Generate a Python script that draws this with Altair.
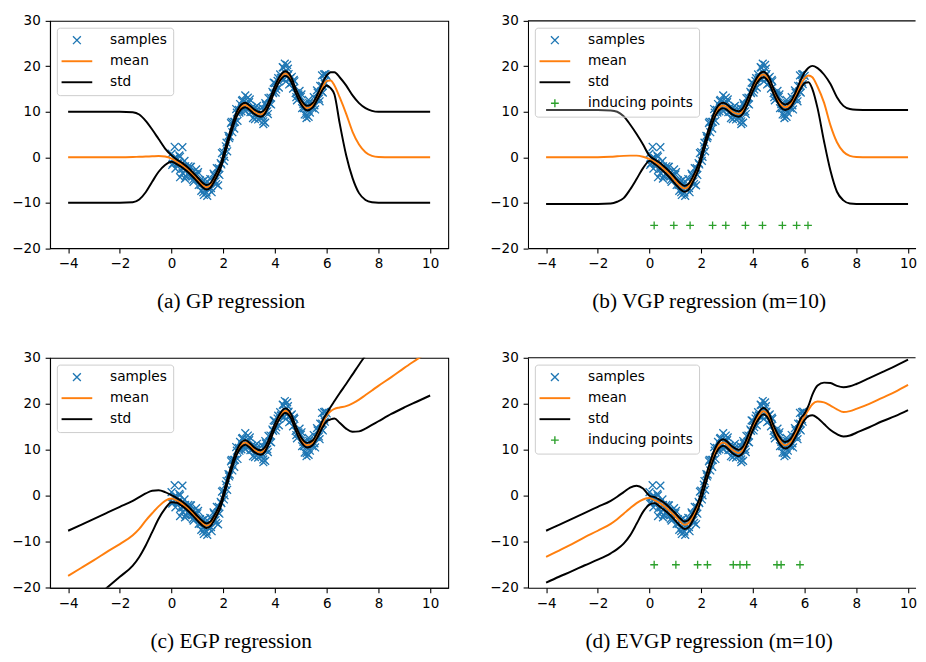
import altair as alt
import pandas as pd

# ---------------- data ----------------
XG = [-4, -3.5, -3, -2.5, -2, -1.5, -1.25, -1, -0.75, -0.5,
      -0.25, 0, 0.2, 0.4, 0.6, 0.8, 1.0, 1.2, 1.35, 1.5,
      1.7, 1.9, 2.1, 2.3, 2.5, 2.7, 2.85, 3.0, 3.2, 3.45,
      3.6, 3.8, 4.0, 4.2, 4.4, 4.6, 4.8, 5.0, 5.25, 5.45,
      5.65, 5.85, 6.0, 6.15, 6.3, 6.5, 6.75, 7.0, 7.25, 7.5,
      7.75, 8, 8.5, 9, 9.5, 10]

A_MEAN = [0, 0, 0, 0, 0, 0.05, 0.1, 0.15, 0.2, 0.25,
          0.15, -0.3, -1.0, -1.7, -2.6, -3.7, -4.9, -6.1, -6.6, -6.2,
          -4.3, -1.9, 2.0, 5.8, 9.2, 11.1, 11.5, 11.0, 10.0, 9.4,
          10.0, 12.3, 15.2, 17.4, 18.4, 17.4, 14.6, 12.2, 10.8, 11.4,
          13.3, 15.6, 16.8, 16.9, 15.8, 13.2, 9.6, 5.6, 2.8, 1.1,
          0.3, 0.05, 0, 0, 0, 0]
A_UP = [10, 10, 10, 10, 10, 9.9, 9.4, 8.0, 6.1, 4.0,
        1.9, 0.4, -0.5, -1.2, -2.1, -3.2, -4.4, -5.6, -6.1, -5.7,
        -3.8, -1.4, 2.5, 6.3, 9.7, 11.6, 12.0, 11.5, 10.5, 9.9,
        10.5, 12.8, 15.7, 17.9, 18.9, 17.9, 15.1, 12.7, 11.3, 11.9,
        13.9, 16.5, 18.0, 18.7, 18.7, 17.6, 15.8, 13.6, 11.9, 10.8,
        10.2, 10.0, 10, 10, 10, 10]
A_LO = [-10, -10, -10, -10, -10, -9.9, -9.3, -7.7, -5.4, -3.2,
        -1.7, -1.0, -1.5, -2.2, -3.1, -4.2, -5.4, -6.6, -7.1, -6.7,
        -4.8, -2.4, 1.5, 5.3, 8.7, 10.6, 11.0, 10.5, 9.5, 8.9,
        9.5, 11.8, 14.7, 16.9, 17.9, 16.9, 14.1, 11.7, 10.3, 10.9,
        12.8, 14.9, 15.8, 15.2, 13.8, 7.5, 0.5, -4.6, -7.9, -9.4,
        -9.9, -10, -10, -10, -10, -10]

B_MEAN = [0, 0, 0, 0, 0, 0.1, 0.2, 0.3, 0.35, 0.35,
          0.1, -0.4, -1.0, -1.8, -2.8, -3.9, -5.2, -6.4, -6.9, -6.5,
          -4.6, -2.0, 2.0, 5.8, 9.1, 11.0, 11.4, 11.0, 10.0, 9.5,
          10.1, 12.4, 15.2, 17.3, 18.2, 17.2, 14.5, 12.2, 11.0, 11.6,
          13.6, 16.0, 17.4, 18.0, 17.6, 15.5, 12.0, 7.0, 3.3, 1.2,
          0.3, 0.05, 0, 0, 0, 0]
B_UP = [10.4, 10.4, 10.4, 10.4, 10.4, 10.3, 10.0, 9.0, 7.2, 5.1,
        2.8, 0.3, -0.5, -1.2, -2.2, -3.3, -4.6, -5.8, -6.3, -5.9,
        -4.0, -1.4, 2.6, 6.4, 9.7, 11.6, 12.0, 11.6, 10.6, 10.1,
        10.7, 13.0, 15.8, 17.9, 18.8, 17.8, 15.1, 12.8, 11.6, 12.2,
        14.3, 17.0, 18.7, 19.7, 20.1, 19.6, 18.2, 16.1, 13.2, 11.3,
        10.6, 10.45, 10.4, 10.4, 10.4, 10.4]
B_LO = [-10.3, -10.3, -10.3, -10.3, -10.3, -10.2, -9.8, -9.0, -7.1, -4.8,
        -2.4, -0.8, -1.5, -2.4, -3.4, -4.6, -5.9, -7.1, -7.6, -7.2,
        -5.2, -2.6, 1.4, 5.2, 8.5, 10.4, 10.8, 10.4, 9.4, 8.9,
        9.5, 11.8, 14.6, 16.7, 17.6, 16.6, 13.9, 11.6, 10.4, 11.0,
        12.9, 15.1, 16.3, 16.5, 15.0, 10.8, 3.5, -3.0, -7.6, -9.5,
        -10.2, -10.3, -10.3, -10.3, -10.3, -10.3]

C_MEAN = [-17.4, -15.7, -14.0, -12.2, -10.5, -8.6, -7.2, -5.4, -3.8, -2.3,
          -1.1, -0.6, -1.0, -1.7, -2.6, -3.7, -4.9, -6.0, -6.5, -6.1,
          -4.3, -1.9, 2.0, 5.8, 9.2, 11.1, 11.6, 11.1, 10.0, 9.4,
          10.0, 12.3, 15.2, 17.4, 18.5, 17.5, 14.7, 12.3, 11.0, 11.5,
          13.3, 15.8, 17.5, 18.4, 18.9, 19.2, 19.5, 20.1, 20.9, 21.9,
          22.9, 23.9, 25.8, 27.8, 29.7, 31.6]
C_UP = [-7.6, -6.3, -5.0, -3.7, -2.4, -1.1, -0.3, 0.5, 1.1, 1.2,
        0.8, 0.1, -0.5, -1.2, -2.1, -3.2, -4.4, -5.5, -6.0, -5.6,
        -3.8, -1.4, 2.5, 6.3, 9.7, 11.6, 12.1, 11.6, 10.5, 9.9,
        10.5, 12.8, 15.7, 17.9, 19.0, 18.0, 15.2, 12.8, 11.5, 12.0,
        13.9, 16.5, 17.9, 19.3, 20.6, 22.3, 24.3, 26.4, 28.5, 30.5,
        32.5, 34.4, 38.0, 41.5, 45.0, 48.5]
C_LO = [-26.5, -24.5, -22.4, -20.0, -17.6, -15.2, -13.3, -10.8, -7.9, -5.0,
        -2.8, -1.4, -1.5, -2.2, -3.1, -4.2, -5.4, -6.5, -7.0, -6.6,
        -4.8, -2.4, 1.5, 5.3, 8.7, 10.6, 11.1, 10.6, 9.5, 8.9,
        9.5, 11.8, 14.7, 16.9, 18.0, 17.0, 14.2, 11.8, 10.5, 11.0,
        12.8, 15.0, 16.2, 16.6, 16.8, 15.9, 14.6, 13.9, 14.0, 14.6,
        15.4, 16.2, 17.8, 19.2, 20.5, 21.8]

D_MEAN = [-13.3, -11.9, -10.5, -9.0, -7.6, -6.1, -5.1, -3.9, -2.7, -1.6,
          -0.8, -0.5, -1.0, -1.6, -2.4, -3.4, -4.5, -5.7, -6.3, -6.0,
          -4.3, -1.8, 2.0, 5.8, 9.1, 11.1, 11.6, 11.1, 10.0, 9.3,
          9.9, 12.2, 15.0, 17.2, 18.4, 17.4, 14.6, 12.3, 11.0, 11.6,
          13.5, 15.9, 17.3, 18.7, 19.9, 20.5, 20.3, 19.6, 18.8, 18.2,
          18.4, 18.9, 20.0, 21.3, 22.6, 24.1]
D_UP = [-7.6, -6.3, -5.0, -3.7, -2.4, -1.1, -0.2, 0.8, 1.8, 2.2,
        1.6, 0.0, -0.3, -0.9, -1.7, -2.7, -3.8, -5.0, -5.6, -5.3,
        -3.6, -1.1, 2.7, 6.5, 9.8, 11.8, 12.3, 11.8, 10.7, 10.0,
        10.6, 12.9, 15.7, 17.9, 19.1, 18.1, 15.3, 13.0, 11.7, 12.3,
        14.3, 16.8, 17.9, 19.6, 22.0, 24.0, 24.6, 24.5, 23.9, 23.6,
        23.8, 24.3, 25.6, 26.9, 28.2, 29.6]
D_LO = [-18.9, -17.6, -16.4, -15.1, -13.9, -12.5, -11.6, -10.4, -8.6, -6.1,
        -3.5, -1.9, -1.6, -2.4, -3.2, -4.2, -5.4, -6.6, -7.2, -6.9,
        -5.1, -2.6, 1.2, 5.0, 8.3, 10.4, 10.9, 10.4, 9.3, 8.6,
        9.2, 11.5, 14.3, 16.5, 17.7, 16.7, 13.9, 11.6, 10.3, 10.9,
        12.8, 15.0, 16.5, 17.3, 17.5, 16.9, 15.6, 14.3, 13.4, 12.9,
        13.1, 13.7, 14.9, 16.2, 17.3, 18.6]

SAMPLE_X = [
    0.0, 0.05, 0.1, 0.15, 0.2, 0.25, 0.3, 0.35, 0.4, 0.45,
    0.5, 0.55, 0.6, 0.65, 0.7, 0.75, 0.8, 0.85, 0.9, 0.95,
    1.0, 1.05, 1.1, 1.15, 1.2, 1.25, 1.3, 1.35, 1.4, 1.45,
    1.5, 1.55, 1.6, 1.65, 1.7, 1.75, 1.8, 1.85, 1.9, 1.95,
    2.0, 2.05, 2.1, 2.15, 2.2, 2.25, 2.3, 2.35, 2.4, 2.45,
    2.5, 2.55, 2.6, 2.65, 2.7, 2.75, 2.8, 2.85, 2.9, 2.95,
    3.0, 3.05, 3.1, 3.15, 3.2, 3.25, 3.3, 3.35, 3.4, 3.45,
    3.5, 3.55, 3.6, 3.65, 3.7, 3.75, 3.8, 3.85, 3.9, 3.95,
    4.0, 4.05, 4.1, 4.15, 4.2, 4.25, 4.3, 4.35, 4.4, 4.45,
    4.5, 4.55, 4.6, 4.65, 4.7, 4.75, 4.8, 4.85, 4.9, 4.95,
    5.0, 5.05, 5.1, 5.15, 5.2, 5.25, 5.3, 5.35, 5.4, 5.45,
    5.5, 5.55, 5.6, 5.65, 5.7, 5.75, 5.8, 5.85, 5.9, 5.95,
    6.0,
    0.025, 0.125, 0.225, 0.325, 0.425, 0.525, 0.625, 0.725, 0.825, 0.925,
    1.025, 1.125, 1.225, 1.325, 1.425, 1.525, 1.625, 1.725, 1.825, 1.925,
    2.025, 2.125, 2.225, 2.325, 2.425, 2.525, 2.625, 2.725, 2.825, 2.925,
    3.025, 3.125, 3.225, 3.325, 3.425, 3.525, 3.625, 3.725, 3.825, 3.925,
    4.025, 4.125, 4.225, 4.325, 4.425, 4.525, 4.625, 4.725, 4.825, 4.925,
    5.025, 5.125, 5.225, 5.325, 5.425, 5.525, 5.625, 5.725, 5.825, 5.925,
    0.12, 0.42, 0.33, 0.52, 1.25, 1.38, 1.8, 2.85, 3.55, 3.62,
    4.38, 4.47, 5.22, 5.3, 5.82, 5.9]
SAMPLE_Y = [
    0.8, -1.4, -0.3, -2.5, -0.2, -1.5, 0.4, -2.7, -1.5, -2.5,
    -0.8, -4.2, -2.6, -2.0, -4.2, -2.1, -4.2, -5.4, -3.7, -2.7,
    -3.8, -6.1, -5.1, -7.4, -5.3, -6.7, -4.9, -7.8, -6.4, -7.0,
    -4.8, -7.7, -5.4, -4.0, -5.3, -2.4, -3.6, -3.9, -1.3, 0.9,
    1.1, 0.1, 2.4, 1.3, 4.7, 4.6, 7.5, 5.5, 7.8, 7.8,
    10.6, 8.0, 10.4, 11.7, 10.1, 12.6, 11.0, 10.1, 12.0, 13.1,
    12.1, 9.9, 10.9, 8.6, 10.8, 9.5, 11.3, 8.3, 9.6, 8.8,
    10.9, 7.9, 10.0, 11.4, 10.1, 13.0, 11.8, 11.6, 14.4, 16.4,
    16.3, 14.9, 16.8, 15.3, 18.2, 17.5, 19.8, 17.1, 18.6, 17.7,
    19.5, 16.0, 17.4, 17.7, 15.1, 16.7, 14.1, 12.5, 13.8, 14.6,
    13.3, 10.8, 11.7, 9.4, 11.7, 10.5, 12.6, 9.8, 11.4, 10.8,
    13.2, 10.5, 12.8, 14.2, 12.9, 15.7, 14.5, 14.2, 16.6, 18.3,
    17.9,
    -1.7, -0.1, -1.3, 0.1, -3.5, -2.0, -3.6, -2.1, -5.0, -4.0,
    -3.3, -6.1, -7.7, -5.6, -6.4, -6.8, -3.6, -5.9, -2.4, -1.6,
    -0.8, 3.2, 4.2, 7.8, 6.3, 9.8, 9.8, 12.4, 10.4, 11.8,
    12.7, 10.0, 8.4, 10.6, 9.5, 8.9, 11.9, 9.5, 13.1, 14.1,
    14.2, 17.4, 17.4, 19.7, 16.7, 18.3, 16.3, 17.0, 13.2, 13.5,
    13.8, 10.8, 9.3, 11.9, 11.4, 11.4, 14.7, 12.3, 15.7, 16.1,
    2.3, 2.2, -4.4, -4.7, -8.3, -8.5, -6.2, 13.6, 7.3, 7.6,
    20.6, 20.3, 8.6, 8.9, 18.0, 18.2]

B_IND_X = [0.18, 0.94, 1.57, 2.44, 2.95, 3.71, 4.37, 5.14, 5.69, 6.13]
B_IND_Y = [-15, -15, -15, -15, -15, -15, -15, -15, -15, -15]
D_IND_X = [0.18, 1.02, 1.86, 2.24, 3.24, 3.5, 3.76, 4.93, 5.09, 5.82]
D_IND_Y = [-15, -15, -15, -15, -15, -15, -15, -15, -15, -15]

CAPTIONS = ["(a) GP regression", "(b) VGP regression (m=10)",
            "(c) EGP regression", "(d) EVGP regression (m=10)"]
X_TICKS = [-4, -2, 0, 2, 4, 6, 8, 10]
Y_TICKS = [-20, -10, 0, 10, 20, 30]

# ---------------- styling ----------------
C_BLUE, C_ORANGE, C_GREEN = "#1f77b4", "#ff7f0e", "#2ca02c"
XPATH = "M-1,-1L1,1M-1,1L1,-1"
PLUSPATH = "M-1,0L1,0M0,-1L0,1"
LINEPATH = "M-3.75,-0.07L3.75,-0.07L3.75,0.07L-3.75,0.07Z"
TICK_FS = 13.8
LEG_FS = 14
PX_PER_UNIT = 26.45          # horizontal pixels per x unit on the page


def panel(mean, up, lo, ind_x, ind_y, caption, width, height, xmax, right, title_y):
    names = ["samples", "mean", "std"]
    colors = [C_BLUE, C_ORANGE, "#000000"]
    shapes = [XPATH, LINEPATH, LINEPATH]
    if ind_x:
        names = names + ["inducing points"]
        colors = colors + [C_GREEN]
        shapes = shapes + [PLUSPATH]
    pts = pd.DataFrame({
        "x": SAMPLE_X + ind_x,
        "y": SAMPLE_Y + ind_y,
        "series": ["samples"] * len(SAMPLE_X) + ["inducing points"] * len(ind_x),
    })
    xscale = alt.Scale(domain=[-4.7, xmax], nice=False, zero=False)
    yscale = alt.Scale(domain=[-20, 30], nice=False, zero=False)
    xaxis = alt.Axis(values=X_TICKS, format="d", grid=False, tickSize=5, tickWidth=1.1,
                     tickColor="black", domainColor="black", domainWidth=1.1,
                     labelFont="DejaVu Sans", labelFontSize=TICK_FS, labelColor="black",
                     labelPadding=4, labelFlush=False, labelOverlap=False,
                     title=caption, titleFont="Liberation Serif", titleFontSize=21.8,
                     titleFontWeight="normal", titleColor="black", titleX=184.8,
                     titleY=title_y, titleBaseline="alphabetic", titleAlign="center")
    yaxis = alt.Axis(values=Y_TICKS, format="d", grid=False, tickSize=5, tickWidth=1.1,
                     tickColor="black", domainColor="black", domainWidth=1.1,
                     labelFont="DejaVu Sans", labelFontSize=TICK_FS, labelColor="black",
                     labelPadding=5, labelFlush=False, labelOverlap=False,
                     minExtent=41.5, title=None)
    legend = alt.Legend(orient="top-left", offset=7, title=None, padding=5.8,
                        rowPadding=7.5, symbolOffset=7.7, labelOffset=26.9,
                        labelFont="DejaVu Sans", labelFontSize=LEG_FS, labelColor="black",
                        labelLimit=400, symbolSize=64, symbolStrokeWidth=1.4,
                        strokeColor="#cccccc", fillColor="rgba(255,255,255,0.25)",
                        cornerRadius=3)
    X = alt.X("x:Q", scale=xscale, axis=xaxis)
    Y = alt.Y("y:Q", scale=yscale, axis=yaxis)

    points = alt.Chart(pts).mark_point(filled=False, size=64, strokeWidth=1.35,
                                       opacity=1, clip=True).encode(
        x=X, y=Y,
        color=alt.Color("series:N", scale=alt.Scale(domain=names, range=colors), legend=legend),
        shape=alt.Shape("series:N", scale=alt.Scale(domain=names, range=shapes), legend=legend),
    )
    mean_line = alt.Chart(pd.DataFrame({"x": XG, "y": mean})).mark_line(
        color=C_ORANGE, strokeWidth=2, interpolate="monotone", clip=True
    ).encode(x=X, y=Y)
    std_df = pd.DataFrame({"x": XG + XG, "y": up + lo,
                           "part": ["upper"] * len(XG) + ["lower"] * len(XG)})
    std_lines = alt.Chart(std_df).mark_line(
        color="black", strokeWidth=2, interpolate="monotone", clip=True
    ).encode(x=X, y=Y, detail="part:N")
    layers = [points, mean_line, std_lines]
    if right:
        top = alt.Chart(pd.DataFrame({"y": [30]})).mark_rule(
            color="black", strokeWidth=1.1).encode(y=Y)
        layers.append(top)
        view = alt.ViewBackground(stroke="transparent")
    else:
        view = alt.ViewBackground(stroke="black", strokeWidth=1.1)
    return alt.layer(*layers).properties(width=width, height=height, view=view)


LW = 407.4
RW = 396.5
RMAX = -4.7 + RW / PX_PER_UNIT
TOP_H, BOT_H = 232.5, 235.3

pa = panel(A_MEAN, A_UP, A_LO, [], [], CAPTIONS[0], LW, TOP_H, 10.7, False, 61)
pb = panel(B_MEAN, B_UP, B_LO, B_IND_X, B_IND_Y, CAPTIONS[1], RW, TOP_H, RMAX, True, 61)
pc = panel(C_MEAN, C_UP, C_LO, [], [], CAPTIONS[2], LW, BOT_H, 10.7, False, 61)
pd_ = panel(D_MEAN, D_UP, D_LO, D_IND_X, D_IND_Y, CAPTIONS[3], RW, BOT_H, RMAX, True, 61)


def column(top, bottom):
    return alt.vconcat(top, bottom, spacing=111.7, bounds="flush").resolve_scale(
        color="independent", shape="independent"
    ).resolve_legend(color="independent", shape="independent")


chart = alt.hconcat(
    column(pa, pc), column(pb, pd_), spacing=39
).resolve_scale(
    color="independent", shape="independent"
).resolve_legend(
    color="independent", shape="independent"
).properties(
    padding={"left": 0, "top": -2.36, "right": 0, "bottom": 0}
).configure(background="white")

chart.save("out.html", embed_options={"renderer": "svg", "actions": False})
